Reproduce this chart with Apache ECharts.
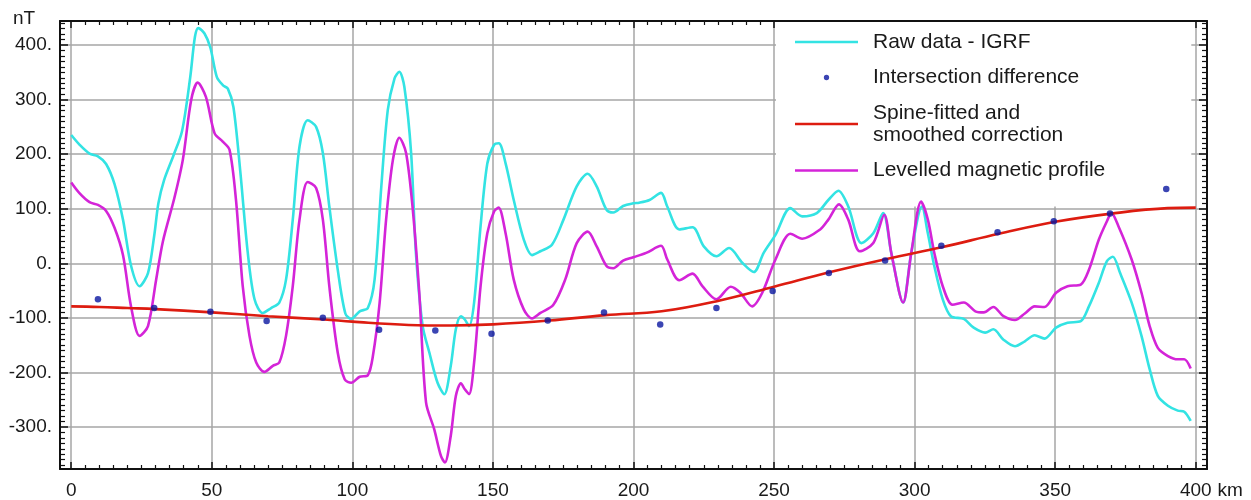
<!DOCTYPE html>
<html>
<head>
<meta charset="utf-8">
<script src="https://cdn.jsdelivr.net/npm/echarts@6/dist/echarts.min.js"></script>
<style>
html,body{margin:0;padding:0;background:#fff;}
#chart{width:1251px;height:500px;}
</style>
</head>
<body>
<div id="chart"></div>
<script>
// Raw data - IGRF  [km, nT]
const rawData = [[0,235],[3,217],[6.5,201],[9.5,196],[12.4,182],[15.4,145],[18.4,80],[21.3,-5],[24.3,-42],[27.3,-18],[29.5,50],[31,110],[33,152],[36.4,198],[39.4,242],[42.3,340],[44,415],[45.2,431],[47.4,421],[49.5,395],[51.8,341],[54,326],[55.7,320],[57.7,286],[60.1,170],[62.8,19],[65.2,-66],[68.1,-91],[71.1,-82],[74,-72],[76.4,-30],[78.8,80],[81.2,214],[84.1,262],[87.1,250],[89.5,202],[91.8,104],[94.8,-12],[97.5,-92],[99.6,-102],[102.6,-88],[105.5,-82],[107.9,-30],[110.3,141],[112.6,281],[115,339],[116.7,351],[118.5,323],[120.9,202],[122.6,19],[125,-115],[127.4,-164],[130.3,-219],[132.7,-240],[135,-188],[136.8,-121],[138.6,-97],[140,-103],[141.5,-115],[143.3,-72],[145.6,68],[148,183],[150.4,217],[152.1,220],[154.5,183],[157.4,116],[161,43],[163.9,15],[166.9,22],[171,34],[175.1,80],[179.8,141],[183.7,164],[186.9,141],[190.4,98],[192.8,93],[196.3,105],[199.9,110],[202,111],[205.7,116],[209.8,129],[212,104],[216.3,62],[221,66],[225,31],[229.5,13],[234,28],[238.7,1],[242.8,-16],[246.3,19],[250.5,52],[255.8,101],[260,86],[265.2,92],[269.3,116],[272.9,133],[276.4,104],[281.1,37],[285.3,55],[288.8,92],[291.7,19],[295.9,-72],[298.8,19],[302.6,104],[304.7,55],[307,-5],[310,-66],[312.9,-97],[317.5,-102],[321,-118],[325.1,-127],[328,-121],[331.6,-140],[335.7,-152],[339.2,-143],[342.7,-132],[346.2,-138],[350.3,-118],[354.4,-109],[359.1,-106],[362,-79],[365.5,-36],[368.4,4],[370.5,12],[373.1,-18],[377.2,-72],[380.7,-133],[383.6,-194],[386.5,-243],[390.1,-261],[393.6,-270],[395.9,-272],[398.2,-289]];

// Intersection difference  [km, nT]
const intersectionData = [[9.5,-66],[29.5,-82],[49.5,-89],[69.5,-106],[89.5,-100],[109.5,-122],[129.5,-123],[149.5,-129],[169.5,-105],[189.5,-90],[209.5,-112],[229.5,-82],[249.5,-51],[269.5,-18],[289.5,5],[309.5,32],[329.5,57],[349.5,77],[369.5,91],[389.5,136]];

// Spline-fitted and smoothed correction  [km, nT]
const correctionData = [[0,-79],[10,-80],[20,-82],[30,-84],[50,-90],[70,-97],[90,-103],[100,-107],[120,-113],[135,-114],[150,-112],[170,-105],[190,-95],[210,-88],[230,-69],[250,-43],[270,-16],[290,8],[310,30],[330,54],[350,76],[370,91],[390,101],[400,102]];

// Levelled magnetic profile  [km, nT]
const levelledData = [[0,148],[3,128],[6.5,112],[9.5,107],[12.4,96],[15.4,65],[18.4,15],[21.3,-80],[24.3,-133],[27.3,-115],[30.2,-30],[32.6,40],[36.7,120],[39.7,190],[42.7,300],[45,331],[47.9,305],[51,238],[53.9,223],[56.3,208],[58.6,116],[61,-42],[63.4,-133],[65.8,-182],[68.7,-199],[71.7,-188],[74,-182],[76.4,-133],[78.8,-42],[81.2,80],[84.1,149],[87.1,138],[89.5,80],[91.8,-42],[94.8,-164],[97.3,-213],[99.6,-219],[102.6,-208],[105.5,-205],[107.3,-170],[109.7,-72],[112,80],[114.4,189],[116.7,230],[119.1,202],[121.5,98],[123.8,-54],[126.2,-255],[129.1,-304],[131.5,-353],[132.9,-365],[135,-316],[136.8,-243],[138.6,-220],[140,-231],[141.5,-240],[143.3,-182],[145.6,-42],[148,55],[150.4,95],[152,102],[154.5,55],[157.4,-30],[161,-85],[163.9,-101],[166.9,-91],[171.5,-76],[175.7,-30],[179.8,37],[183.7,58],[186.9,31],[190.4,-5],[192.8,-9],[196.3,5],[199.9,11],[204.5,19],[209.8,32],[212,7],[216.3,-31],[221,-19],[224.5,-42],[229.5,-66],[234.6,-43],[238,-54],[242.2,-79],[245.8,-54],[250.5,7],[255.8,54],[260,45],[266.4,62],[269.3,80],[273.1,108],[276.4,80],[280.5,22],[285.3,37],[289.2,89],[291.7,19],[295.9,-72],[298.8,19],[302.3,113],[304.7,80],[307,19],[310,-42],[313.5,-76],[317.5,-72],[321.6,-88],[324.6,-90],[328,-80],[331.6,-97],[335.7,-104],[339.2,-92],[342.7,-79],[346.2,-80],[350.3,-54],[354.4,-42],[359.1,-39],[362,-12],[365.5,43],[368.4,77],[370,92],[372.5,68],[377.2,7],[380.7,-54],[383.6,-115],[386.5,-155],[390.1,-170],[393.6,-176],[395.9,-176],[398.2,-193]];

const seriesNames = ['Raw data - IGRF','Intersection difference','Spine-fitted and\nsmoothed correction','Levelled magnetic profile'];
const xTickStep = 50, yTickStep = 100;
const xRange = [-4, 404], yRange = [-377, 444];

const FONT = '"Liberation Sans", Arial, sans-serif';
const AX = '#111';
const GRID = '#a6a6a6';

function xAxisCfg(pos, labels) {
  return {
    type:'value', position:pos, min:xRange[0], max:xRange[1],
    minInterval:xTickStep, maxInterval:xTickStep, splitNumber:8,
    axisLine:{show:true, onZero:false, lineStyle:{color:AX, width:2}},
    axisTick:{show:true, inside:true, length:7, lineStyle:{color:AX, width:1.5}},
    minorTick:{show:true, splitNumber:10, length:4, lineStyle:{color:AX, width:1.2}},
    splitLine:{show:labels, lineStyle:{color:GRID, width:1.5}},
    axisLabel:{show:labels, margin:12, fontSize:19, fontFamily:FONT, color:'#1a1a1a',
      showMinLabel:false, showMaxLabel:false,
      formatter:v => (Math.abs(v % xTickStep) < 1e-6 ? String(v) : '')},
    name: labels ? 'km' : '', nameLocation:'end', nameGap:6,
    nameTextStyle:{fontSize:19, fontFamily:FONT, color:'#1a1a1a', verticalAlign:'top', padding:[12,0,0,0]}
  };
}
function yAxisCfg(pos, labels) {
  return {
    type:'value', position:pos, min:yRange[0], max:yRange[1],
    minInterval:yTickStep, maxInterval:yTickStep, splitNumber:8,
    axisLine:{show:true, onZero:false, lineStyle:{color:AX, width:2}},
    axisTick:{show:true, inside:true, length:8, lineStyle:{color:AX, width:1.5}},
    minorTick:{show:true, splitNumber:10, length:5, lineStyle:{color:AX, width:1.2}},
    splitLine:{show:labels, lineStyle:{color:GRID, width:1.5}},
    axisLabel:{show:labels, margin:8, fontSize:19, fontFamily:FONT, color:'#1a1a1a',
      showMinLabel:false, showMaxLabel:false,
      formatter:v => (Math.abs(v % yTickStep) < 1e-6 ? v + '.' : '')}
  };
}

const dotIcon = 'path://M0,0L0.01,0L0,0.01Z M10,10L9.99,10L10,9.99Z M5,3.1A1.9,1.9,0,1,1,5,6.9A1.9,1.9,0,1,1,5,3.1Z';
const lineIcon = 'path://M0,0L63,0L63,2.6L0,2.6Z';

const chart = echarts.init(document.getElementById('chart'), null, {renderer:'canvas'});
chart.setOption({
  animation:false,
  backgroundColor:'#fff',
  title:{text:'nT', left:13, top:9, padding:0, textStyle:{fontSize:19, fontWeight:'normal', fontFamily:FONT, color:'#1a1a1a'}},
  grid:{left:60, right:44, top:21, bottom:30, containLabel:false},
  xAxis:[xAxisCfg('bottom', true), xAxisCfg('top', false)],
  yAxis:[yAxisCfg('left', true), yAxisCfg('right', false)],
  legend:{
    orient:'vertical', left:776, top:22, z:1,
    backgroundColor:'#fff', borderWidth:0,
    padding:[9, 86, 25, 19],
    itemWidth:63, itemHeight:14, itemGap:13.5,
    textStyle:{fontSize:21, lineHeight:22, fontFamily:FONT, color:'#1a1a1a', padding:[0,0,0,10]},
    data:[
      {name:seriesNames[0], icon:lineIcon},
      {name:seriesNames[1], icon:dotIcon},
      {name:seriesNames[2], icon:lineIcon},
      {name:seriesNames[3], icon:lineIcon}
    ]
  },
  series:[
    {name:seriesNames[0], type:'line', data:rawData, symbol:'none', smooth:0.3, z:2,
      lineStyle:{color:'#33e3e3', width:2.6}, itemStyle:{color:'#33e3e3'}},
    {name:seriesNames[3], type:'line', data:levelledData, symbol:'none', smooth:0.3, z:3,
      lineStyle:{color:'#d424d8', width:2.6}, itemStyle:{color:'#d424d8'}},
    {name:seriesNames[2], type:'line', data:correctionData, symbol:'none', smooth:0.4, z:4,
      lineStyle:{color:'#dd1c10', width:2.6}, itemStyle:{color:'#dd1c10'}},
    {name:seriesNames[1], type:'scatter', data:intersectionData, symbol:'circle', symbolSize:6.5, z:5,
      itemStyle:{color:'#0a16a0'}}
  ]
});
</script>
</body>
</html>
